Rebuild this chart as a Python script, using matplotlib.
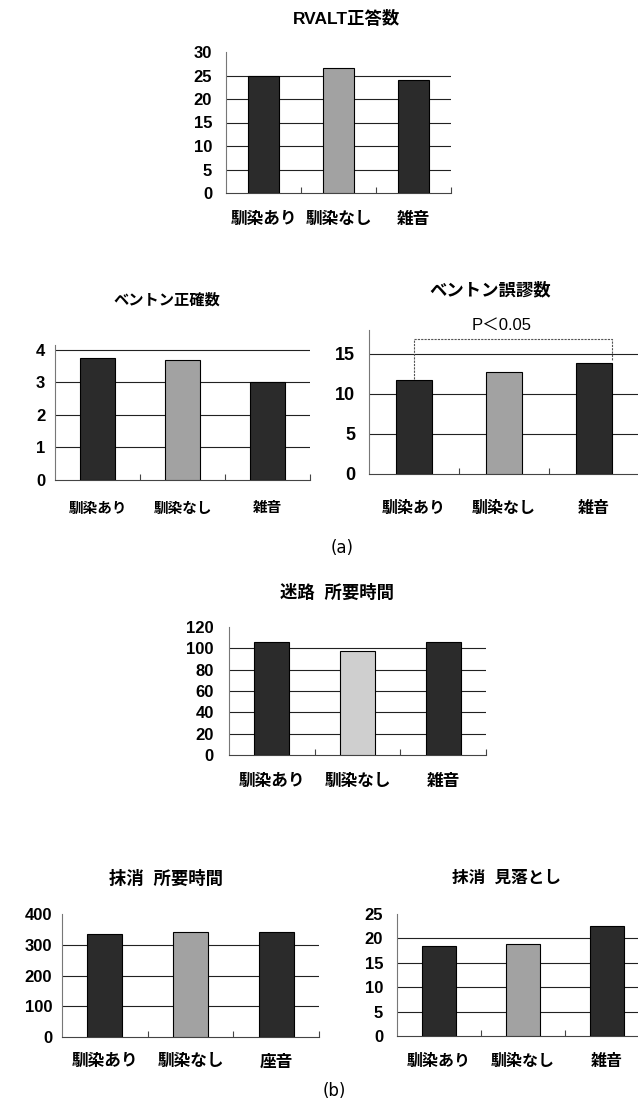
import matplotlib
matplotlib.use("Agg")
import matplotlib.pyplot as plt
import numpy as np

plt.rcParams['font.family'] = ['Liberation Sans', 'Noto Sans CJK JP', 'DejaVu Sans']

# =========================
# Dane
# =========================

categories = ['馴染あり', '馴染なし', '雑音']
categories_cancel = ['馴染あり', '馴染なし', '座音']

rvalt_correct = [25.0, 26.5, 24.0]
benton_correct = [3.75, 3.69, 3.0]
benton_error = [11.7, 12.7, 13.9]
maze_time = [106, 97.5, 106]
cancel_time = [335, 341, 343]
cancel_miss = [18.4, 18.9, 22.5]

W, H = 638, 1109
fig = plt.figure(figsize=(W / 100, H / 100), dpi=100)

dark = '#2b2b2b'
mid = '#a2a2a2'
light = '#cfcfcf'


def make_axes(left, right, top, bottom):
    return fig.add_axes([left / W, 1 - bottom / H, (right - left) / W, (bottom - top) / H])


def bar_chart(rect, values, labels, ymax, yticks, colors, ypad, xpad,
              tick_size=12, label_size=12, label_weight='bold'):
    ax = make_axes(*rect)
    x = np.arange(len(values))
    ax.bar(x, values, width=0.41, color=colors, edgecolor='black',
           linewidth=0.8, zorder=3)
    for t in yticks:
        if 0 < t < ymax:
            ax.axhline(t, color='#222222', linewidth=0.8, zorder=1)
    ax.set_xlim(-0.5, len(values) - 0.5)
    ax.set_ylim(0, ymax)
    ax.set_yticks(yticks)
    ax.set_yticklabels([str(t) for t in yticks], fontsize=tick_size,
                       fontweight='bold')
    ax.set_xticks(x)
    ax.set_xticklabels(labels, fontsize=label_size, fontweight=label_weight,
                       family=['Noto Sans CJK JP'])
    ax.set_xticks(np.arange(len(values)) + 0.5, minor=True)
    ax.tick_params(axis='y', length=0, pad=ypad)
    ax.tick_params(axis='x', which='major', length=0, pad=xpad)
    ax.tick_params(axis='x', which='minor', direction='in', length=4,
                   width=0.8, color='#444444')
    for s in ['top', 'right']:
        ax.spines[s].set_visible(False)
    ax.spines['left'].set_color('#777777')
    ax.spines['left'].set_linewidth(0.8)
    ax.spines['bottom'].set_color('#444444')
    ax.spines['bottom'].set_linewidth(0.8)
    ax.patch.set_alpha(0)
    return ax


dark_mid = [dark, mid, dark]

# RVALT
bar_chart((226, 451, 52, 193), rvalt_correct, categories, 30,
          [0, 5, 10, 15, 20, 25, 30], dark_mid, ypad=10, xpad=12)
fig.text(346 / W, 1 - 18 / H, 'RVALT正答数', ha='center', va='center',
         fontsize=12.5, fontweight='bold')

# Benton correct
bar_chart((55, 310, 345, 480), benton_correct, categories, 4.15,
          [0, 1, 2, 3, 4], dark_mid, ypad=7, xpad=14, label_size=10.5)
fig.text(167 / W, 1 - 300 / H, 'ベントン正確数', ha='center', va='center',
         fontsize=11, fontweight='bold')

# Benton error
ax3 = bar_chart((369, 639, 330, 474), benton_error, categories, 18,
                [0, 5, 10, 15], dark_mid, ypad=10, xpad=19, tick_size=13,
                label_size=11.5)
fig.text(490 / W, 1 - 290 / H, 'ベントン誤謬数', ha='center', va='center',
         fontsize=12.5, fontweight='bold')
fig.text(502 / W, 1 - 325 / H, 'P＜0.05', ha='center', va='center',
         fontsize=12)
bracket_y = 16.9
ax3.plot([0, 0, 2.2, 2.2],
         [benton_error[0] + 0.2, bracket_y, bracket_y, benton_error[2] + 0.2],
         color='#555555', linestyle=(0, (2, 1)), linewidth=0.8, zorder=4,
         clip_on=False)

fig.text(342 / W, 1 - 548 / H, '(a)', ha='center', va='center',
         fontsize=12, family='DejaVu Sans')

# Maze
bar_chart((229, 486, 627, 755), maze_time, categories, 120,
          [0, 20, 40, 60, 80, 100, 120], [dark, light, dark], ypad=11, xpad=12)
fig.text(337 / W, 1 - 592 / H, '迷路  所要時間', ha='center', va='center',
         fontsize=12.5, fontweight='bold')

# Cancel time
bar_chart((62, 319, 914, 1037), cancel_time, categories_cancel, 400,
          [0, 100, 200, 300, 400], dark_mid, ypad=7, xpad=11)
fig.text(166 / W, 1 - 878 / H, '抹消  所要時間', ha='center', va='center',
         fontsize=12.5, fontweight='bold')

# Cancel miss
bar_chart((397, 649, 914, 1036), cancel_miss, categories, 25,
          [0, 5, 10, 15, 20, 25], dark_mid, ypad=10, xpad=12, label_size=11.5)
fig.text(507 / W, 1 - 878 / H, '抹消  見落とし', ha='center', va='center',
         fontsize=12, fontweight='bold')

fig.text(334 / W, 1 - 1091 / H, '(b)', ha='center', va='center',
         fontsize=12, family='DejaVu Sans')

fig.savefig('out.png', dpi=100)
